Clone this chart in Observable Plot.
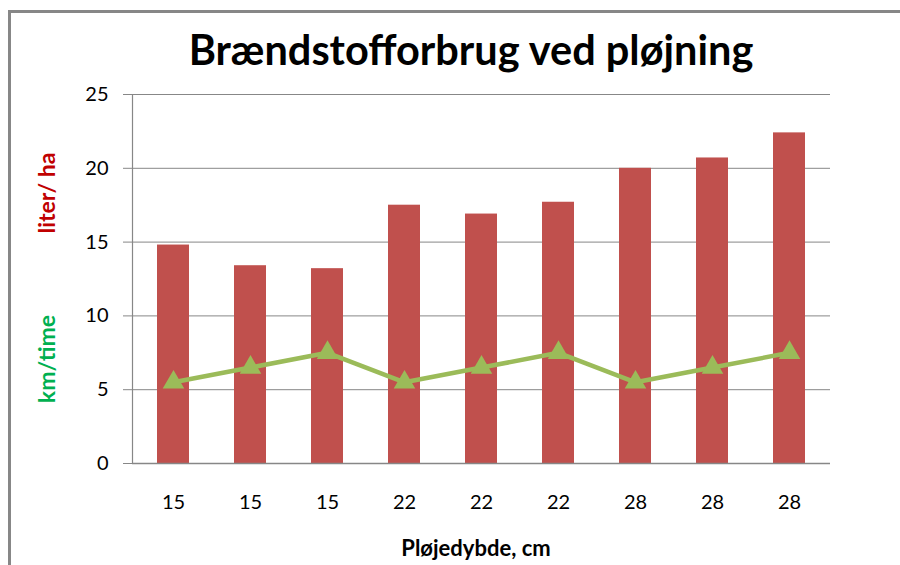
<!DOCTYPE html>
<html>
<head>
<meta charset="utf-8">
<script src="https://cdn.jsdelivr.net/npm/d3@7"></script>
<script src="https://cdn.jsdelivr.net/npm/@observablehq/plot@0.6"></script>
<style>
  html, body { margin: 0; padding: 0; background: #fff; }
  #wrap { position: relative; width: 900px; height: 565px; overflow: hidden; }
  #border { position: absolute; left: 8px; top: 10px; width: 900px; height: 600px;
            border-left: 3px solid #878787; border-top: 3px solid #878787; box-sizing: border-box; }
  #chart { position: absolute; left: 0; top: 0; }
</style>
</head>
<body>
<div id="wrap"><div id="border"></div><div id="chart"></div></div>
<script>
const title = "Brændstofforbrug ved pløjning";
const xTitle = "Pløjedybde, cm";
const yLabelFuel = "liter/ ha";
const yLabelSpeed = "km/time";
const depths = ["15", "15", "15", "22", "22", "22", "28", "28", "28"];
const fuel = [14.8, 13.4, 13.2, 17.5, 16.9, 17.7, 20.0, 20.7, 22.4];
const speed = [5.5, 6.5, 7.5, 5.5, 6.5, 7.5, 5.5, 6.5, 7.5];
const yTicks = [0, 5, 10, 15, 20, 25];

const idx = d3.range(depths.length);
const grid = "#878787";

const plot = Plot.plot({
  width: 900,
  height: 565,
  marginLeft: 132,
  marginRight: 70,
  marginTop: 94,
  marginBottom: 102,
  style: { fontFamily: "Lato, sans-serif", fontSize: "20px", color: "#000", background: "transparent" },
  x: { type: "band", domain: idx, paddingInner: 0.59, paddingOuter: 0.295 },
  y: { domain: [0, 25] },
  marks: [
    Plot.ruleY(yTicks, { stroke: grid, strokeWidth: 1 }),
    Plot.barY(idx, { x: i => i, y: i => fuel[i], fill: "#C0504D" }),
    Plot.ruleY([0], { stroke: grid, strokeWidth: 1.5 }),
    Plot.frame({ anchor: "left", stroke: grid, strokeWidth: 1.2 }),
    Plot.axisY({ ticks: yTicks, tickSize: 9, tickPadding: 15, stroke: grid, label: null }),
    Plot.axisX({ tickFormat: i => depths[i], tickSize: 0, tickPadding: 31, label: null }),
    Plot.line(idx, { x: i => i, y: i => speed[i], stroke: "#9BBB59", strokeWidth: 4.5 }),
    Plot.dot(idx, { x: i => i, y: i => speed[i], symbol: "triangle", fill: "#9BBB59", r: 8 })
  ]
});
document.getElementById("chart").appendChild(plot);

const svg = d3.select(plot);
svg.append("text").text(title)
  .attr("x", 471).attr("y", 65).attr("text-anchor", "middle")
  .attr("font-family", "Lato, sans-serif").attr("font-weight", "bold").attr("font-size", 41.5).attr("fill", "#000");
svg.append("text").text(xTitle)
  .attr("x", 476).attr("y", 556).attr("text-anchor", "middle")
  .attr("font-family", "Lato, sans-serif").attr("font-weight", "bold").attr("font-size", 22).attr("fill", "#000");
svg.append("text").text(yLabelFuel)
  .attr("transform", "translate(55,193) rotate(-90)").attr("text-anchor", "middle")
  .attr("font-family", "Lato, sans-serif").attr("font-weight", "bold").attr("font-size", 23).attr("fill", "#C00000");
svg.append("text").text(yLabelSpeed)
  .attr("transform", "translate(55,359) rotate(-90)").attr("text-anchor", "middle")
  .attr("font-family", "Lato, sans-serif").attr("font-weight", "bold").attr("font-size", 23).attr("fill", "#00B050");
</script>
</body>
</html>
